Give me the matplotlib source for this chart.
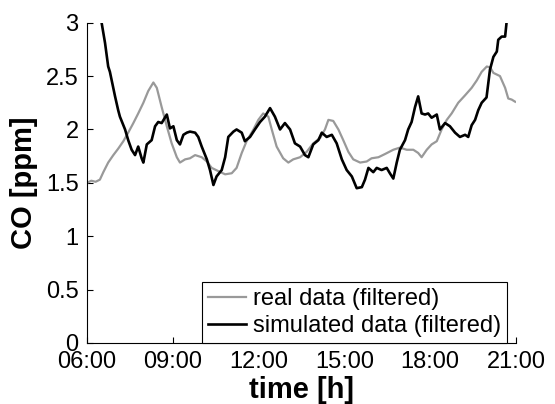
import matplotlib
matplotlib.use('Agg')
import matplotlib.pyplot as plt

plt.rcParams['font.family'] = ['Liberation Sans', 'DejaVu Sans']

# time in hours, CO in ppm
real_t = [6.00, 6.15, 6.30, 6.45, 6.57, 6.74, 6.92, 7.09, 7.27, 7.44, 7.62, 7.79,
          7.97, 8.14, 8.32, 8.44, 8.61, 8.79, 8.96, 9.14, 9.25, 9.43, 9.60, 9.78,
          10.01, 10.19, 10.36, 10.59, 10.83, 11.06, 11.23, 11.41, 11.58, 11.82,
          11.99, 12.16, 12.34, 12.46, 12.63, 12.86, 13.04, 13.21, 13.45, 13.68,
          13.91, 14.15, 14.32, 14.44, 14.61, 14.79, 14.96, 15.14, 15.31, 15.55,
          15.78, 15.95, 16.19, 16.42, 16.71, 16.94, 17.18, 17.41, 17.58, 17.70,
          17.88, 18.05, 18.23, 18.40, 18.58, 18.75, 18.98, 19.22, 19.45, 19.63,
          19.80, 19.98, 20.10, 20.21, 20.44, 20.62, 20.73, 20.85, 20.97]
real_co = [1.50, 1.52, 1.51, 1.53, 1.60, 1.69, 1.76, 1.82, 1.89, 1.97, 2.06, 2.15,
           2.25, 2.36, 2.44, 2.39, 2.21, 2.03, 1.87, 1.74, 1.69, 1.72, 1.73, 1.76,
           1.74, 1.70, 1.64, 1.61, 1.58, 1.59, 1.64, 1.78, 1.89, 2.00,
           2.09, 2.15, 2.12, 2.00, 1.84, 1.73, 1.69, 1.72, 1.74, 1.79,
           1.87, 1.92, 2.00, 2.09, 2.08, 2.00, 1.90, 1.79, 1.72, 1.69,
           1.70, 1.73, 1.74, 1.77, 1.81, 1.83, 1.81, 1.81, 1.78, 1.74,
           1.81, 1.86, 1.89, 2.00, 2.09, 2.15, 2.25, 2.32, 2.39, 2.46,
           2.54, 2.59, 2.58, 2.53, 2.50, 2.39, 2.29, 2.28, 2.26]

sim_t = [6.40, 6.51, 6.63, 6.74, 6.80, 6.98, 7.09, 7.15, 7.33, 7.44, 7.56, 7.68,
         7.79, 7.91, 7.97, 8.09, 8.26, 8.38, 8.49, 8.61, 8.79, 8.90, 9.02, 9.14,
         9.25, 9.37, 9.49, 9.60, 9.78, 9.89, 10.01, 10.19, 10.30, 10.42, 10.53,
         10.71, 10.83, 10.94, 11.12, 11.23, 11.41, 11.52, 11.70, 11.87, 12.05,
         12.22, 12.40, 12.57, 12.75, 12.92, 13.10, 13.27, 13.45, 13.62, 13.74,
         13.91, 14.09, 14.21, 14.38, 14.56, 14.73, 14.91, 15.08, 15.26, 15.43,
         15.61, 15.72, 15.84, 16.01, 16.13, 16.30, 16.48, 16.59, 16.71, 16.83,
         16.94, 17.12, 17.23, 17.35, 17.47, 17.58, 17.70, 17.82, 17.93, 18.05,
         18.23, 18.34, 18.52, 18.69, 18.87, 19.04, 19.22, 19.33, 19.45, 19.57,
         19.68, 19.80, 19.97, 20.09, 20.21, 20.33, 20.38, 20.50, 20.62, 20.67, 20.72]
sim_co = [3.25, 3.00, 2.81, 2.59, 2.54, 2.31, 2.18, 2.12, 2.00, 1.90, 1.81, 1.76,
          1.84, 1.73, 1.69, 1.86, 1.90, 2.03, 2.07, 2.06, 2.14, 2.01, 2.03, 1.90,
          1.86, 1.95, 1.97, 1.98, 1.97, 1.93, 1.84, 1.72, 1.62, 1.48, 1.56,
          1.62, 1.74, 1.93, 1.98, 2.00, 1.97, 1.89, 1.93, 2.00, 2.07,
          2.12, 2.20, 2.12, 2.00, 2.06, 2.00, 1.87, 1.84, 1.76, 1.74,
          1.86, 1.90, 1.97, 1.93, 1.95, 1.87, 1.72, 1.62, 1.56, 1.45,
          1.46, 1.53, 1.64, 1.60, 1.64, 1.62, 1.64, 1.59, 1.54, 1.69,
          1.81, 1.90, 2.00, 2.07, 2.21, 2.31, 2.15, 2.14, 2.15, 2.11,
          2.14, 2.00, 2.06, 2.03, 1.97, 1.93, 1.95, 1.93, 2.04, 2.09,
          2.18, 2.25, 2.30, 2.56, 2.68, 2.73, 2.84, 2.87, 2.87, 3.00, 3.10]

xticks = [6, 9, 12, 15, 18, 21]
xticklabels = ['06:00', '09:00', '12:00', '15:00', '18:00', '21:00']
yticks = [0, 0.5, 1, 1.5, 2, 2.5, 3]
yticklabels = ['0', '0.5', '1', '1.5', '2', '2.5', '3']

fig = plt.figure(figsize=(5.55, 4.04), dpi=100)
ax = fig.add_axes([0.1568, 0.151, 0.7729, 0.7928])

ax.plot(real_t, real_co, color='#999999', linewidth=1.6, label='real data (filtered)')
ax.plot(sim_t, sim_co, color='black', linewidth=1.9, label='simulated data (filtered)')

ax.set_xlim(6, 21)
ax.set_ylim(0, 3)
ax.set_xticks(xticks)
ax.set_xticklabels(xticklabels)
ax.set_yticks(yticks)
ax.set_yticklabels(yticklabels)
ax.tick_params(direction='in', length=4, width=0.8, labelsize=17, pad=6)
ax.spines['top'].set_visible(False)
ax.spines['right'].set_visible(False)

ax.set_xlabel('time [h]', fontsize=21, fontweight='bold', labelpad=2)
ax.set_ylabel('CO [ppm]', fontsize=21, fontweight='bold', labelpad=6)

leg = ax.legend(loc='lower right', bbox_to_anchor=(0.979, 0.0), fontsize=17,
                frameon=True, fancybox=False, borderaxespad=0, borderpad=0.25,
                labelspacing=0.2, handlelength=1.6, handletextpad=0.3)
leg.get_frame().set_edgecolor('black')
leg.get_frame().set_linewidth(0.8)
leg.get_frame().set_alpha(1)

fig.savefig('out.png', dpi=100)
